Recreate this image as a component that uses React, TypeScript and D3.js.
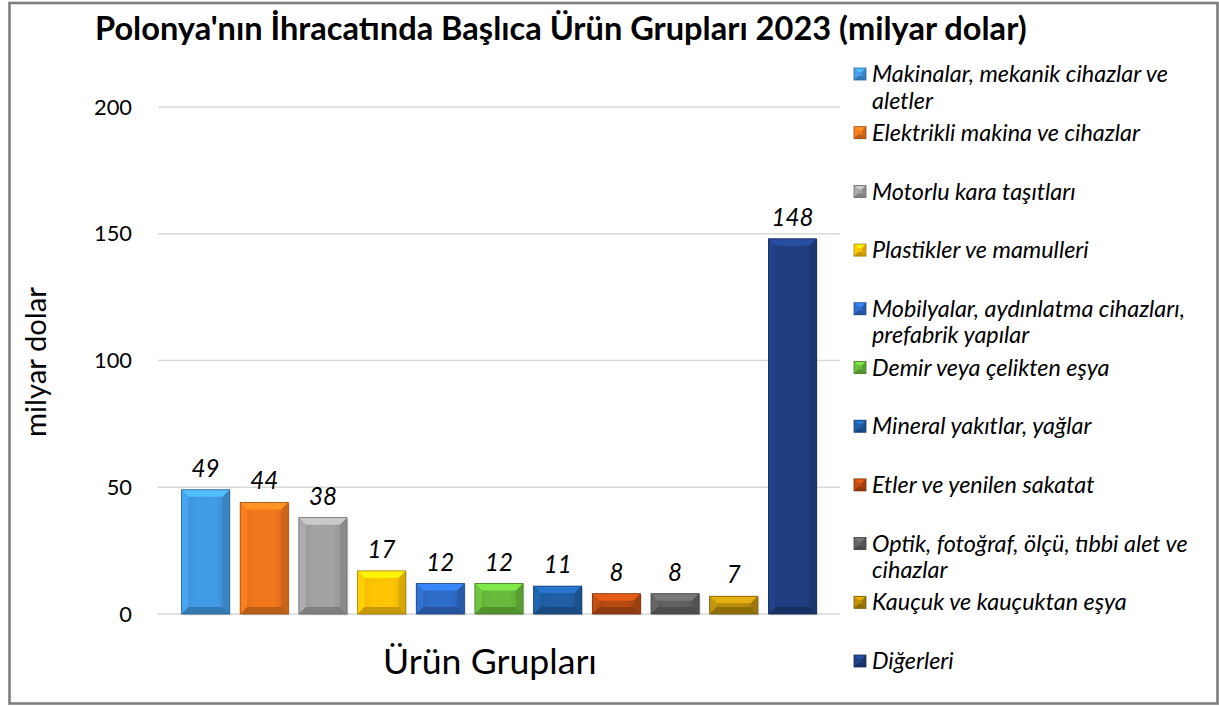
import { useEffect, useRef } from 'react'
import * as d3 from 'd3'

const categories = [
  'Makinalar, mekanik cihazlar ve|aletler',
  'Elektrikli makina ve cihazlar',
  'Motorlu kara taşıtları',
  'Plastikler ve mamulleri',
  'Mobilyalar, aydınlatma cihazları,|prefabrik yapılar',
  'Demir veya çelikten eşya',
  'Mineral yakıtlar, yağlar',
  'Etler ve yenilen sakatat',
  'Optik, fotoğraf, ölçü, tıbbi alet ve|cihazlar',
  'Kauçuk ve kauçuktan eşya',
  'Diğerleri',
]
const values = [49, 44, 38, 17, 12, 12, 11, 8, 8, 7, 148]
const colors = [
  '#429be5', '#f0771c', '#a3a3a3', '#ffc505', '#2e6cc9', '#68bb3c',
  '#1f5fa6', '#b84a12', '#626262', '#b88d0c', '#1f3f82',
]
const yTicks = [0, 50, 100, 150, 200]

const title = "Polonya'nın İhracatında Başlıca Ürün Grupları 2023 (milyar dolar)"
const font = 'Lato, "Open Sans", sans-serif'

export default () => {
  const rootRef = useRef<SVGSVGElement>(null)

  useEffect(() => {
    const width = 1219, height = 706
    const svg = d3.select(rootRef.current)
    svg.selectAll('*').remove()
    svg.attr('width', width).attr('height', height)

    // font size so that a sample string gets a given width
    const fit = (sample: string, target: number, weight: string, style: string) => {
      const t = svg.append('text').attr('font-family', font).attr('font-size', 100)
        .attr('font-weight', weight).attr('font-style', style).text(sample)
      const w = (t.node() as SVGTextElement).getComputedTextLength()
      t.remove()
      return (100 * target) / w
    }
    const titleSize = fit(title, 932, 'bold', 'normal')
    const legendSize = fit('Makinalar, mekanik cihazlar ve', 296, 'normal', 'italic')
    const tickSize = fit('150', 38, 'normal', 'normal')
    const xTitleSize = fit('Ürün Grupları', 214, 'normal', 'normal')
    const yTitleSize = fit('milyar dolar', 150, 'normal', 'normal')
    const labelSize = fit('148', 42, 'normal', 'italic')

    // frame
    svg.append('rect').attr('x', 9.5).attr('y', 3).attr('width', 1208).attr('height', 700.5)
      .attr('fill', '#fff').attr('stroke', '#7f7f7f').attr('stroke-width', 2.6)

    // defs for bar body gradients
    const defs = svg.append('defs')
    colors.forEach((c, i) => {
      const g = defs.append('linearGradient').attr('id', 'bg' + i)
        .attr('x1', 0).attr('x2', 1).attr('y1', 0).attr('y2', 0)
      g.append('stop').attr('offset', '0%').attr('stop-color', d3.color(c)!.darker(0.25).formatHex())
      g.append('stop').attr('offset', '30%').attr('stop-color', c)
      g.append('stop').attr('offset', '70%').attr('stop-color', c)
      g.append('stop').attr('offset', '100%').attr('stop-color', d3.color(c)!.darker(0.35).formatHex())
    })

    const x = d3.scaleBand<number>().domain(d3.range(values.length))
      .range([158, 840]).paddingInner(0.18).paddingOuter(0.4)
    const y = d3.scaleLinear().domain([0, 200]).range([614, 107])

    // gridlines
    svg.append('g').selectAll('line').data(yTicks).join('line')
      .attr('x1', 158).attr('x2', 840)
      .attr('y1', (d) => y(d)).attr('y2', (d) => y(d))
      .attr('stroke', '#d9d9d9').attr('stroke-width', 1.5)

    // y tick labels
    svg.append('g').selectAll('text').data(yTicks).join('text')
      .attr('x', 132).attr('y', (d) => y(d)).attr('dy', '0.35em')
      .attr('text-anchor', 'end').attr('font-family', font).attr('font-size', tickSize)
      .attr('fill', '#000').text((d) => d)

    // bevelled box helper
    const bevel = (g: any, bx: number, by: number, w: number, h: number, c: string, gid: string, bs: number) => {
      const b = Math.min(bs, h / 2, w / 2)
      const col = d3.color(c)!
      g.append('rect').attr('x', bx).attr('y', by).attr('width', w).attr('height', h).attr('fill', `url(#${gid})`)
      const poly = (pts: number[][], fill: string) =>
        g.append('polygon').attr('points', pts.map((p) => p.join(',')).join(' ')).attr('fill', fill)
      poly([[bx, by], [bx + w, by], [bx + w - b, by + b], [bx + b, by + b]], col.brighter(0.6).formatHex())
      poly([[bx, by], [bx + b, by + b], [bx + b, by + h - b], [bx, by + h]], col.brighter(0.15).formatHex())
      poly([[bx + w, by], [bx + w - b, by + b], [bx + w - b, by + h - b], [bx + w, by + h]], col.darker(0.45).formatHex())
      poly([[bx, by + h], [bx + w, by + h], [bx + w - b, by + h - b], [bx + b, by + h - b]], col.darker(0.7).formatHex())
      g.append('rect').attr('x', bx).attr('y', by).attr('width', w).attr('height', h)
        .attr('fill', 'none').attr('stroke', col.darker(1.2).formatHex()).attr('stroke-width', 0.8)
    }

    // bars
    const bars = svg.append('g')
    values.forEach((v, i) => {
      const bx = x(i)!, bw = x.bandwidth()
      // soft shadow
      bars.append('rect').attr('x', bx + 1.5).attr('y', y(v) + 1.5).attr('width', bw).attr('height', y(0) - y(v))
        .attr('fill', '#000').attr('opacity', 0.12)
      bevel(bars, bx, y(v), bw, y(0) - y(v), colors[i], 'bg' + i, 7)
    })

    // value labels
    svg.append('g').selectAll('text').data(values).join('text')
      .attr('x', (_, i) => x(i)! + x.bandwidth() / 2).attr('y', (d) => y(d) - 13)
      .attr('text-anchor', 'middle').attr('font-family', font).attr('font-style', 'italic')
      .attr('font-size', labelSize).attr('fill', '#000').text((d) => d)

    // axis titles
    svg.append('text').attr('x', 490).attr('y', 662).attr('dy', '0.35em').attr('text-anchor', 'middle')
      .attr('font-family', font).attr('font-size', xTitleSize).attr('fill', '#000').text('Ürün Grupları')
    svg.append('text').attr('transform', 'translate(36,362) rotate(-90)').attr('dy', '0.35em')
      .attr('text-anchor', 'middle').attr('font-family', font).attr('font-size', yTitleSize).attr('fill', '#000')
      .text('milyar dolar')

    // title
    svg.append('text').attr('x', 95).attr('y', 40).attr('font-family', font).attr('font-weight', 'bold')
      .attr('font-size', titleSize).attr('fill', '#000')
      .text(title)

    // legend
    const legend = svg.append('g')
    const ly = d3.scaleLinear().domain([0, categories.length - 1]).range([74, 661])
    categories.forEach((c, i) => {
      const g = legend.append('g')
      const lines = c.split('|')
      const yy = ly(i)
      bevel(g.append('g'), 854, yy - 6, 12, 12, colors[i], 'bg' + i, 4)
      lines.forEach((t, k) => {
        g.append('text').attr('x', 872).attr('y', yy + k * 26.5).attr('dy', '0.35em')
          .attr('font-family', font).attr('font-style', 'italic').attr('font-size', legendSize)
          .attr('fill', '#000').text(t)
      })
    })
  }, [])

  return <svg ref={rootRef} style={{ position: 'absolute', left: 0, top: 0, display: 'block' }}></svg>
}
